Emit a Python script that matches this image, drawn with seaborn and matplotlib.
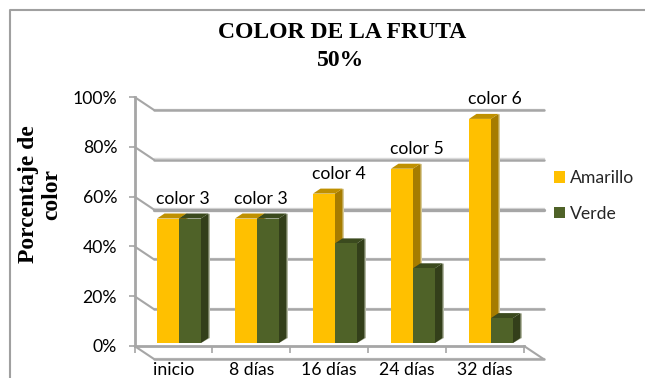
import matplotlib
matplotlib.use("Agg")
import matplotlib.pyplot as plt
import seaborn as sns
import pandas as pd
from matplotlib.patches import Polygon, Rectangle
from matplotlib.transforms import ScaledTranslation
from matplotlib.ticker import PercentFormatter

categories = ["inicio", "8 días", "16 días", "24 días", "32 días"]
amarillo = [50, 50, 60, 70, 90]
verde = [50, 50, 40, 30, 10]
color_labels = ["color 3", "color 3", "color 4", "color 5", "color 6"]
series_names = ["Amarillo", "Verde"]
y_ticks = [0, 20, 40, 60, 80, 100]

W, H, DPI = 645, 378, 100
GRAY = "#a6a6a6"
SHADOW = "#d9d9d9"
SANS = "Lato"
SERIF = "Liberation Serif"
TEXT_SIZE = 12.7
# front, side and top shades of each series
SHADES = {
    "Amarillo": ("#ffc000", "#a67c00", "#bf9000"),
    "Verde": ("#4f6228", "#333f1a", "#3b4a1e"),
}

sns.set_theme(style="white")
fig = plt.figure(figsize=(W / DPI, H / DPI), dpi=DPI, facecolor="white")


def axes_from_pixels(left, top, right, bottom):
    return fig.add_axes([left / W, 1 - bottom / H, (right - left) / W, (bottom - top) / H])


def shifted(ax, dx, dy):
    # data transform moved by a pixel offset, used for the oblique depth of the box
    return ax.transData + ScaledTranslation(dx / DPI, -dy / DPI, fig.dpi_scale_trans)


# outer chart frame, running off the canvas on the right and at the bottom
fig.add_artist(plt.Line2D([9.5 / W, 9.5 / W, 1],
                          [0, 1 - 10 / H, 1 - 10 / H],
                          color="#a0a0a0", lw=1.5, transform=fig.transFigure))

# front plane: axis lines and ticks
ax = axes_from_pixels(134.5, 97, 524, 346)
ax.set_xlim(-0.5, 4.5)
ax.set_ylim(0, 100)
ax.patch.set_alpha(0)
for name, spine in ax.spines.items():
    spine.set_visible(name in ("left", "bottom"))
    spine.set_color(GRAY)
    spine.set_linewidth(2.0)
ax.set_xticks([i + 0.5 for i in range(-1, 5)])
ax.set_xticklabels([])
ax.set_xticks(range(5), categories, minor=True)
ax.tick_params(axis="x", which="major", length=5, width=1.2, color=GRAY, bottom=True)
ax.tick_params(axis="x", which="minor", length=0, pad=11.5, labelsize=TEXT_SIZE,
               labelfontfamily=SANS, labelcolor="black")
ax.set_yticks(y_ticks)
ax.yaxis.set_major_formatter(PercentFormatter(100, decimals=0))
ax.tick_params(axis="y", length=4.5, width=1.2, color=GRAY, left=True, pad=8,
               labelsize=TEXT_SIZE, labelfontfamily=SANS, labelcolor="black")

# back wall, side wall and floor
DX, DY = 19.5, 13
back = shifted(ax, DX, DY)
for tick in y_ticks:
    ax.plot([-0.5, 4.5], [tick, tick], transform=shifted(ax, DX, DY - 1.3), color=SHADOW,
            lw=1, clip_on=False, zorder=1)
    ax.plot([-0.5, 4.5], [tick, tick], transform=back, color=GRAY,
            lw=2.4 if tick == 60 else 1.8, clip_on=False, zorder=1.1)
    start = ax.transData.transform((-0.5, tick))
    end = back.transform((-0.5, tick))
    ax.plot([start[0], end[0]], [start[1], end[1]], transform=None, color=GRAY, lw=1.5,
            clip_on=False, zorder=1.1)
start = ax.transData.transform((4.5, 0))
end = back.transform((4.5, 0))
ax.plot([start[0], end[0]], [start[1], end[1]], transform=None, color=GRAY, lw=1.5,
        clip_on=False, zorder=1.1)

# bars stand slightly behind the front plane
bar_ax = axes_from_pixels(140, 94, 530, 343)
bar_ax.patch.set_alpha(0)
frame = pd.DataFrame({
    "dia": categories * 2,
    "valor": amarillo + verde,
    "serie": [series_names[0]] * 5 + [series_names[1]] * 5,
})
sns.barplot(data=frame, x="dia", y="valor", hue="serie", order=categories,
            hue_order=series_names, width=0.564, gap=0, linewidth=0, saturation=1,
            palette={k: v[0] for k, v in SHADES.items()}, legend=False, ax=bar_ax)
bar_ax.set_xlim(-0.5, 4.5)
bar_ax.set_ylim(0, 100)
bar_ax.axis("off")

BAR_DX, BAR_DY = 7.5, 5
for order, (cont, name) in enumerate(zip(bar_ax.containers, series_names)):
    front, side, top = SHADES[name]
    for bar in cont:
        x0, y0 = bar_ax.transData.transform((bar.get_x(), 0))
        x1, y1 = bar_ax.transData.transform((bar.get_x() + bar.get_width(), bar.get_height()))
        base = 3 + order * 3
        glow = "#d8cb9a" if name == "Amarillo" else "#b4b9a4"
        for pts, colour, z in [
            ([(x1, y0), (x1 + BAR_DX + 1.5, y0 + BAR_DY), (x1 + BAR_DX + 1.5, y1 + BAR_DY), (x1, y1)], glow, base),
            ([(x1, y0), (x1 + BAR_DX, y0 + BAR_DY), (x1 + BAR_DX, y1 + BAR_DY), (x1, y1)], side, base + 0.1),
            ([(x0, y1), (x1, y1), (x1 + BAR_DX, y1 + BAR_DY), (x0 + BAR_DX, y1 + BAR_DY)], top, base + 0.2),
        ]:
            bar_ax.add_patch(Polygon(pts, closed=True, facecolor=colour, edgecolor="none",
                                     transform=None, clip_on=False, zorder=z))
        bar.set_zorder(base + 0.5)

# one label per time point, above the taller bar of the group
for i, text in enumerate(color_labels):
    bar_ax.annotate(text, (i, max(amarillo[i], verde[i])), xytext=(4, 20),
                    textcoords="offset pixels", ha="center", va="center",
                    fontfamily=SANS, fontsize=TEXT_SIZE, color="black", zorder=20,
                    annotation_clip=False)

fig.text(342 / W, 1 - 32 / H, "COLOR DE LA FRUTA", ha="center", va="center",
         fontfamily=SERIF, fontweight="bold", fontsize=17, color="black")
fig.text(341 / W, 1 - 60 / H, "50%", ha="center", va="center",
         fontfamily=SERIF, fontweight="bold", fontsize=17, color="black")
fig.text(40 / W, 1 - 194 / H, "Porcentaje de\ncolor", rotation=90, ha="center", va="center",
         ma="center", fontfamily=SERIF, fontweight="bold", fontsize=17, color="black",
         linespacing=1.1)

# legend swatches share the series colours
handles = [Rectangle((0, 0), 1, 1, facecolor=SHADES[n][0], edgecolor="none") for n in series_names]
fig.legend(handles, series_names, loc="center left",
           bbox_to_anchor=(554 / W, 1 - 196 / H), frameon=False, handlelength=0.62,
           handleheight=0.62, handletextpad=0.28, labelspacing=1.1,
           borderpad=0, borderaxespad=0, prop={"family": SANS, "size": TEXT_SIZE})

fig.savefig("out.png", dpi=DPI, facecolor="white")
